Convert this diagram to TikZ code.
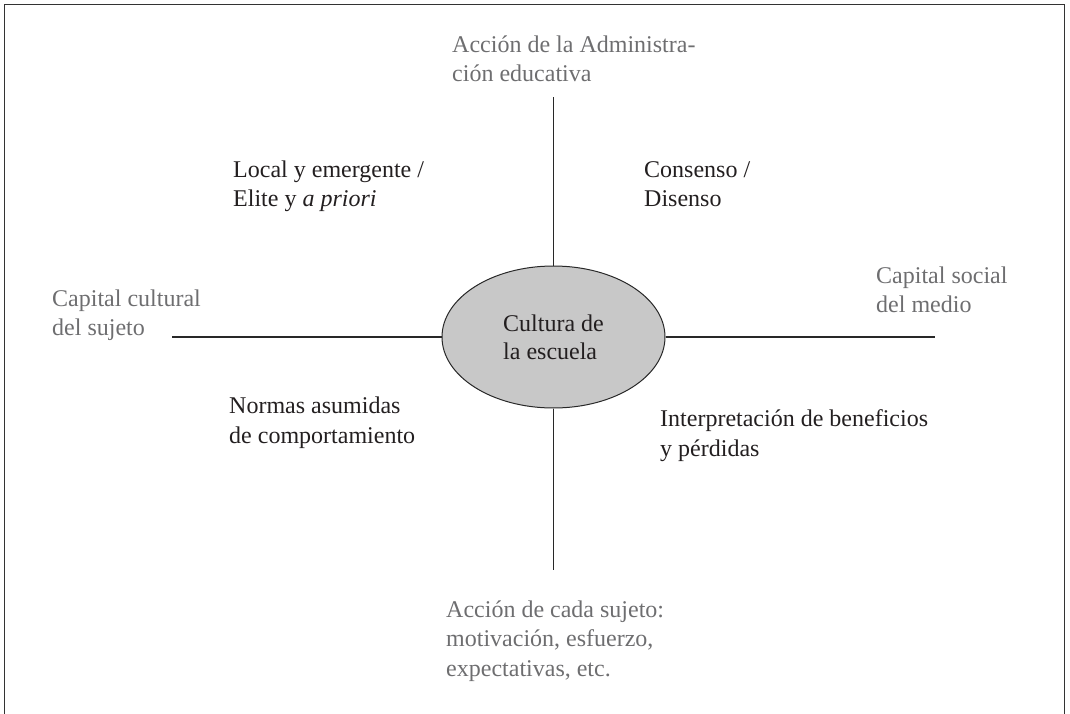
\documentclass[tikz,border=0pt]{standalone}
\usepackage{fontspec}
\setmainfont{Liberation Serif}
\usetikzlibrary{shapes.geometric}
\definecolor{axisgray}{RGB}{110,110,112}
\definecolor{txt}{RGB}{35,31,32}
\definecolor{linec}{RGB}{40,40,40}
\definecolor{ellfill}{RGB}{200,200,200}
\tikzset{
  lbl/.style={anchor=base west,inner sep=0pt,align=left,text=txt,font=\fontsize{24}{29.2}\selectfont},
  axlbl/.style={lbl,text=axisgray},
  axis/.style={draw=linec,line width=1.1pt},
}
\begin{document}
\begin{tikzpicture}[x=1pt,y=-1pt]
\useasboundingbox (0,0) rectangle (1070,714);
\draw[line width=1.6pt,draw=black!80] (4.5,730) -- (4.5,4.5) -- (1064.5,4.5) -- (1064.5,730);
\node[ellipse,draw=linec,line width=1pt,fill=ellfill,minimum width=223pt,minimum height=142pt,inner sep=0pt,align=left,text=txt,font=\fontsize{24}{28}\selectfont] (e) at (553.5,337) {Cultura de\\la escuela};
\coordinate (t) at (553.5,97);
\coordinate (b) at (553.5,570);
\coordinate (l) at (172,337);
\coordinate (r) at (935,337);
\draw[axis] (e.north) -- (t);
\draw[axis] (e.south) -- (b);
\draw[axis] (e.west) -- (l);
\draw[axis] (e.east) -- (r);
% anchors are at the baseline of the last line
\node[axlbl] (a1) at (452,81.5) {Acción de la Administra-\\ción educativa};
\node[lbl] (q1) at (233,206.5) {Local y emergente /\\Elite y \textit{a priori}};
\node[lbl] (q2) at (644,207) {Consenso /\\Disenso};
\node[axlbl] (a2) at (52,335.5) {Capital cultural\\del sujeto};
\node[axlbl] (a3) at (876,312.5) {Capital social\\del medio};
\node[lbl] (q3) at (229,443) {Normas asumidas\\de comportamiento};
\node[lbl] (q4) at (660,456) {Interpretación de beneficios\\y pérdidas};
\node[axlbl] (a4) at (446,676) {Acción de cada sujeto:\\motivación, esfuerzo,\\expectativas, etc.};
\end{tikzpicture}
\end{document}
